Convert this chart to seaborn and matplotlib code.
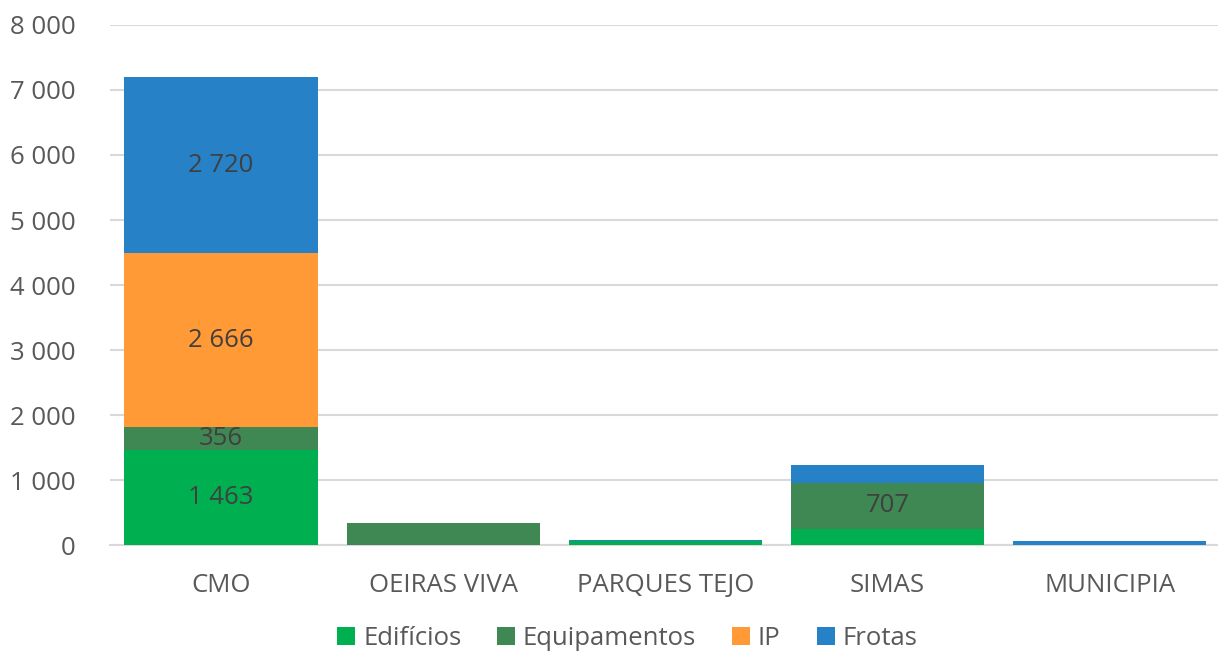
import numpy as np
import pandas as pd
import matplotlib
matplotlib.use("Agg")
import matplotlib.pyplot as plt
from matplotlib.patches import Patch
import seaborn as sns

# === Data ===
entidades = ["CMO", "OEIRAS VIVA", "PARQUES TEJO", "SIMAS", "MUNICIPIA"]
edificios = [1463, 0, 70, 250, 0]
equipamentos = [356, 335, 0, 707, 0]
ip = [2666, 0, 0, 0, 0]
frotas = [2720, 10, 15, 270, 65]

series_names = ["Edifícios", "Equipamentos", "IP", "Frotas"]
series_values = [edificios, equipamentos, ip, frotas]
colors = ["#00B050", "#3F8753", "#FF9A36", "#2681C7"]

# === Setup ===
sns.set_theme(style="white")
plt.rcParams["font.family"] = ["Open Sans", "DejaVu Sans"]

fig = plt.figure(figsize=(12.18, 6.56), dpi=100)
ax = fig.add_axes([0.0903, 0.169, 0.912, 0.793])

df = pd.DataFrame({"entidade": entidades})
cum = np.zeros(len(entidades))
cums = []
for vals in series_values:
    cum = cum + np.array(vals)
    cums.append(cum.copy())

# draw totals back to front so each layer covers the one below
for name, col, c in reversed(list(zip(series_names, colors, cums))):
    df["v"] = c
    sns.barplot(data=df, x="entidade", y="v", color=col, width=0.87,
                saturation=1, ax=ax, edgecolor="none", zorder=3)

# === Labels ===
bottoms = np.zeros(len(entidades))
for vals in series_values:
    for i, v in enumerate(vals):
        if v >= 350:
            txt = f"{v:,}".replace(",", " ")
            ax.text(i, bottoms[i] + v / 2, txt, ha="center", va="center",
                    fontsize=18.5, color="#404040", zorder=5)
    bottoms = bottoms + np.array(vals)

# === Axes styling ===
ax.set_ylim(0, 8000)
ax.set_xlim(-0.5, 4.5)
ax.set_yticks(range(0, 8001, 1000))
ax.set_yticklabels([f"{t:,}".replace(",", " ") for t in range(0, 8001, 1000)])
ax.yaxis.grid(True, color="#D9D9D9", linewidth=1.5, zorder=0)
ax.set_axisbelow(True)
for s in ["top", "right", "left"]:
    ax.spines[s].set_visible(False)
ax.spines["bottom"].set_color("#D9D9D9")
ax.spines["bottom"].set_linewidth(1.5)
ax.tick_params(axis="y", labelsize=18.5, labelcolor="#595959", length=0, pad=25)
ax.tick_params(axis="x", labelsize=18.5, labelcolor="#595959", length=0, pad=20)
ax.set_xlabel("")
ax.set_ylabel("")

handles = [Patch(facecolor=c, edgecolor="none") for c in colors]
fig.legend(handles, series_names, loc="lower center", ncol=4, frameon=False,
           fontsize=18.5, labelcolor="#595959", handlelength=0.7, handleheight=0.7,
           handletextpad=0.3, columnspacing=1.4, bbox_to_anchor=(0.515, -0.028))

fig.savefig("out.png", dpi=100)
